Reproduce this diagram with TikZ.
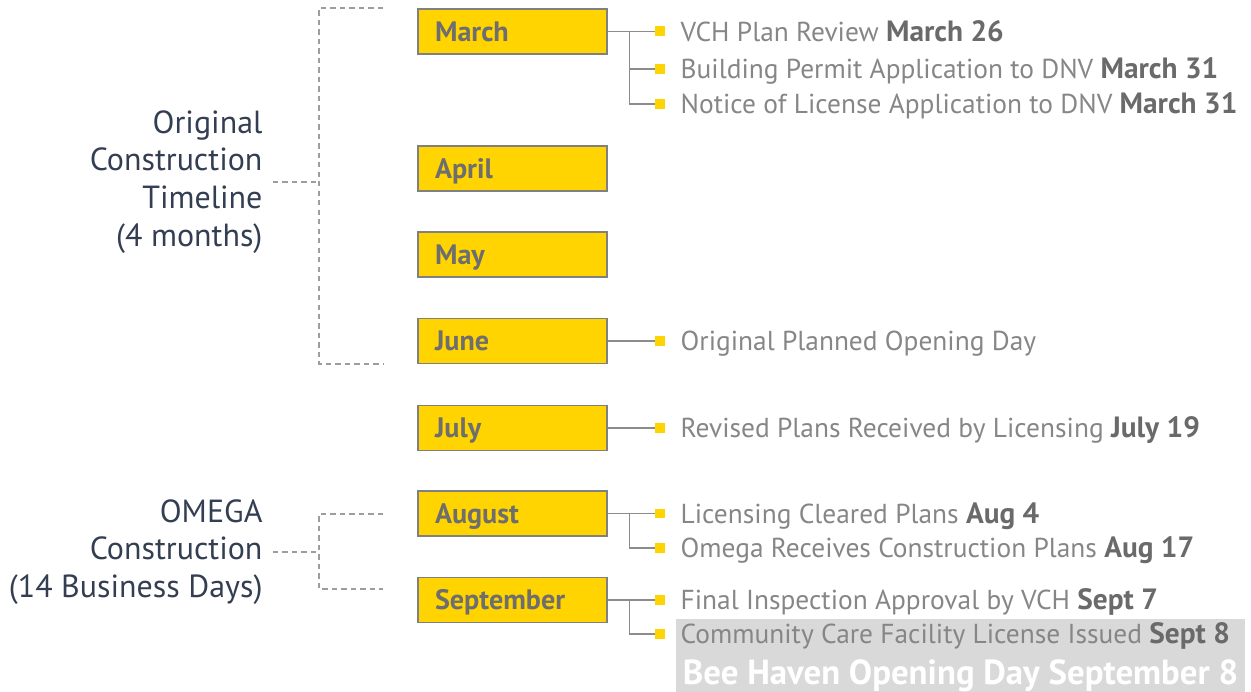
\documentclass[tikz,border=0pt]{standalone}
\usepackage{fontspec}
\setmainfont{PT Sans}
\usetikzlibrary{positioning,calc}
\definecolor{monthyellow}{HTML}{FFD400}
\definecolor{edgegray}{HTML}{808080}
\definecolor{monthtext}{HTML}{6E6E6E}
\definecolor{itemtext}{HTML}{868686}
\definecolor{datetext}{HTML}{6A6A6A}
\definecolor{labelnavy}{HTML}{343E52}
\definecolor{linkgray}{HTML}{8C8C8C}
\definecolor{bannergray}{HTML}{D9D9D9}
\newcommand{\due}[1]{\textcolor{datetext}{\fontsize{16.7}{19}\selectfont\bfseries #1}}
\tikzset{
  month/.style={draw=edgegray, line width=0.8pt, fill=monthyellow, text=monthtext,
    font=\fontsize{16}{19}\selectfont\bfseries, text width=3.1cm, align=left,
    inner xsep=0.34cm, minimum height=0.9cm, text height=11.3pt, text depth=0pt},
  bullet/.style={fill=monthyellow, minimum size=0.2cm, inner sep=0pt},
  item/.style={text=itemtext, font=\fontsize{15.6}{19}\selectfont, inner sep=0pt,
    text height=11.1pt, text depth=0pt},
  period/.style={anchor=east, align=right, text=labelnavy, inner sep=0pt, outer sep=6pt,
    font=\fontsize{18.2}{21.5}\selectfont},
  link/.style={draw=linkgray, line width=0.9pt},
  bracket/.style={draw=linkgray!85, line width=0.85pt, dash pattern=on 3pt off 2.4pt}
}
\begin{document}
\begin{tikzpicture}[x=0.02cm, y=-0.02cm]
\useasboundingbox (0,0) rectangle (1251,692);

% banner behind the last item
\fill[bannergray] (676,619) rectangle (1245,692);

% months
\node[month] (march) at (512.5,31.5) {March};
\node[month] (april) at (512.5,168.5) {April};
\node[month] (may) at (512.5,254.5) {May};
\node[month] (june) at (512.5,341) {June};
\node[month] (july) at (512.5,428) {July};
\node[month] (august) at (512.5,513.5) {August};
\node[month] (september) at (512.5,600) {September};

% bullets
\node[bullet] (m1) at (660,31.5) {};
\node[bullet] (m2) at (660,69) {};
\node[bullet] (m3) at (660,104) {};
\node[bullet] (j1) at (660,341) {};
\node[bullet] (l1) at (660,428) {};
\node[bullet] (a1) at (660,513.5) {};
\node[bullet] (a2) at (660,548) {};
\node[bullet] (s1) at (660,600) {};
\node[bullet] (s2) at (660,634) {};

% items
\node[item, right=0.3cm of m1] {VCH Plan Review \due{March 26}};
\node[item, right=0.3cm of m2] {Building Permit Application to DNV \due{March 31}};
\node[item, right=0.3cm of m3] {Notice of License Application to DNV \due{March 31}};
\node[item, right=0.3cm of j1] {Original Planned Opening Day};
\node[item, right=0.3cm of l1] {Revised Plans Received by Licensing \due{July 19}};
\node[item, right=0.3cm of a1] {Licensing Cleared Plans \due{Aug 4}};
\node[item, right=0.3cm of a2] {Omega Receives Construction Plans \due{Aug 17}};
\node[item, right=0.3cm of s1] {Final Inspection Approval by VCH \due{Sept 7}};
\node[item, right=0.3cm of s2] {Community Care Facility License Issued \due{Sept 8}};
\node[text=white, font=\fontsize{19.8}{22}\selectfont\bfseries, inner sep=0pt,
  text height=14pt, text depth=0pt] (opening) at (960.5,672) {Bee Haven Opening Day September 8};

% month to items
\draw[link] (march) -- (m1);
\draw[link] (march.east) -- ++(22,0) |- (m2);
\draw[link] (march.east) ++(22,0) |- (m3);
\draw[link] (june) -- (j1);
\draw[link] (july) -- (l1);
\draw[link] (august) -- (a1);
\draw[link] (august.east) ++(22,0) |- (a2);
\draw[link] (september) -- (s1);
\draw[link] (september.east) ++(22,0) |- (s2);

% periods
\node[period] (orig) at (273,182) {Original\\Construction\\Timeline\\(4 months)};
\node[period] (omega) at (273,552) {OMEGA\\Construction\\(14 Business Days)};
\coordinate (origtop) at (383,8);
\coordinate (origfork) at (319,182);
\coordinate (origbot) at (383,364);
\coordinate (omegatop) at (383,514);
\coordinate (omegafork) at (319,552);
\coordinate (omegabot) at (383,589);
\draw[bracket] (origtop) -| (origfork) |- (origbot);
\draw[bracket] (orig) -- (origfork);
\draw[bracket] (omegatop) -| (omegafork) |- (omegabot);
\draw[bracket] (omega) -- (omegafork);
\end{tikzpicture}
\end{document}
